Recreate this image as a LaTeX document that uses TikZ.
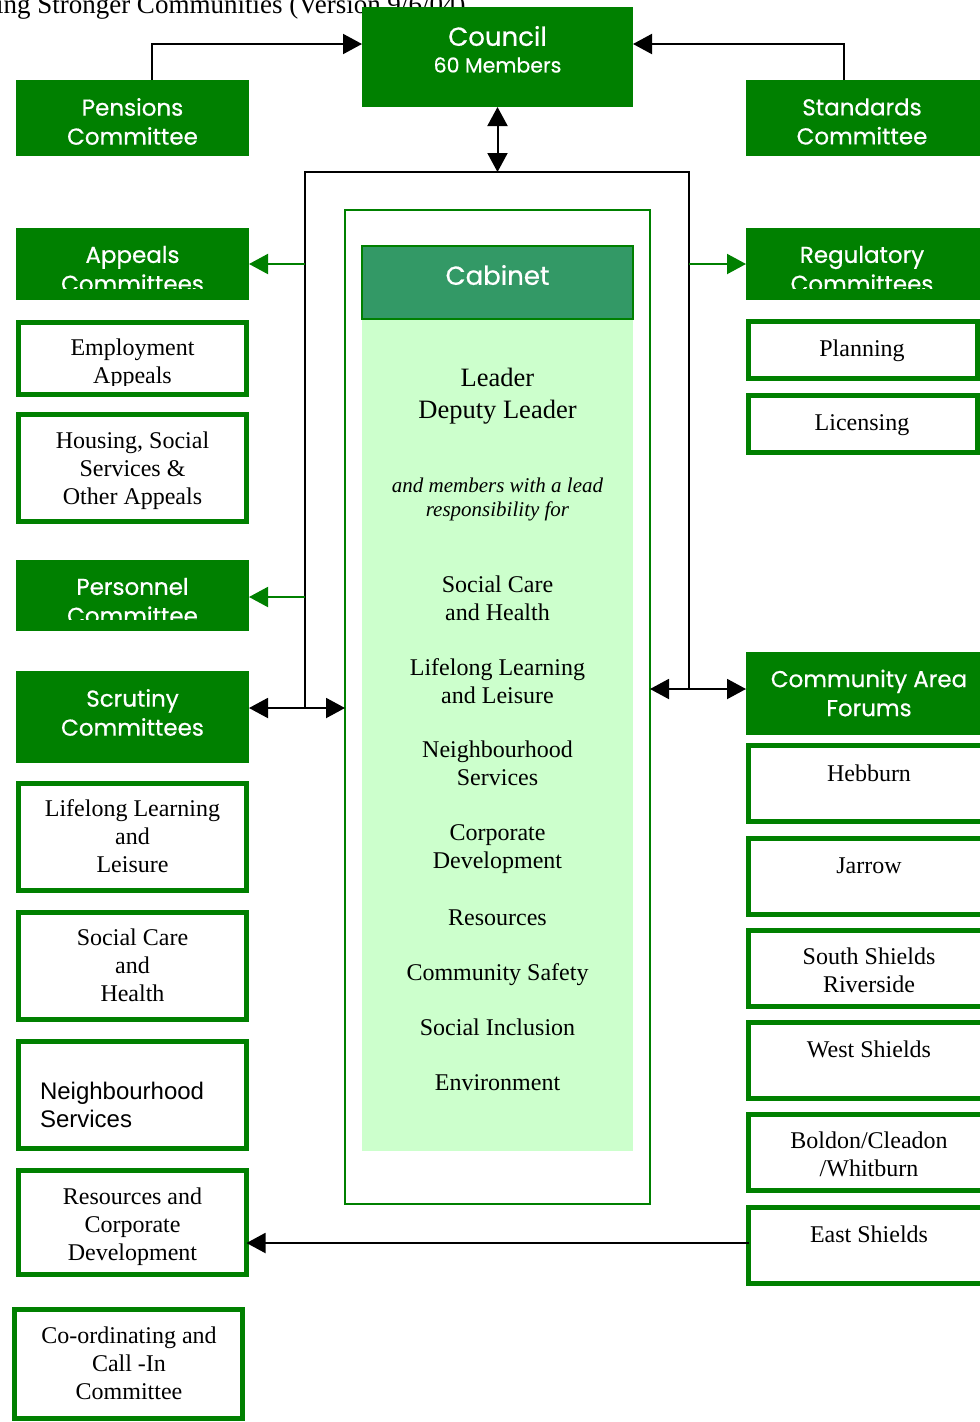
\documentclass[tikz,border=0pt]{standalone}
\usepackage{fontspec}
\setmainfont{Liberation Serif}
\newfontfamily\gothic[FakeBold=0.6]{Poppins}
\newfontfamily\arialf{Liberation Sans}
\usetikzlibrary{arrows.meta}
\definecolor{cgreen}{HTML}{008000}
\definecolor{cabhead}{HTML}{339966}
\definecolor{cabbody}{HTML}{CCFFCC}

% box from outer corners (x1,y1)-(x2,y2); outlined boxes keep their stroke inside
\newcommand\mkbox[6]{\node[#6, minimum width={(#4)-(#2)}, minimum height={(#5)-(#3)}] (#1) at ({((#2)+(#4))/2},{((#3)+(#5))/2}) {};}
\newcommand\mkobox[5]{\node[obox, minimum width={(#4)-(#2)-5}, minimum height={(#5)-(#3)-5}] (#1) at ({((#2)+(#4))/2},{((#3)+(#5))/2}) {};}

\begin{document}
\begin{tikzpicture}[x=1pt,y=-1pt,
  >={Triangle[length=19pt,width=20pt]},
  every node/.style={inner sep=0pt, outer sep=0pt},
  sbox/.style={rectangle, fill=cgreen},
  obox/.style={rectangle, draw=cgreen, line width=5pt, fill=white},
  struts/.style={execute at begin node=\strut, execute at end node=\strut, yshift=-4pt},
  wtext/.style={text=white, align=center, font=\gothic\fontsize{23}{29}\selectfont},
  stext/.style={text=black, align=center, struts, font=\fontsize{24}{28}\selectfont},
  blk/.style={draw=black, line width=2pt},
  grn/.style={draw=cgreen, line width=2pt, ->, color=cgreen},
]
\useasboundingbox (0,0) rectangle (980,1422);

% heading of the sheet
\node[anchor=base west, font=\fontsize{27}{30}\selectfont] (title) at (-4,13.5) {ing Stronger Communities (Version 9/6/04)};

% ---- top row ----
\mkbox{council}{362}{7}{633}{107}{sbox}
\node[text=white, font=\gothic\fontsize{26}{30}\selectfont] (council-t) at (497.5,36) {Council};
\node[text=white, font=\gothic\fontsize{20.5}{24}\selectfont] (council-m) at (497.5,65) {60 Members};
\mkbox{pens}{16}{80}{249}{156}{sbox}
\node[wtext] (pens-t) at (132.5,121.5) {Pensions\\Committee};
\mkbox{stand}{746}{80}{980}{156}{sbox}
\node[wtext] (stand-t) at (862,121.5) {Standards\\Committee};

% ---- cabinet ----
\node[draw=cgreen, line width=2pt, minimum width=305, minimum height=994] (cabframe) at (497.5,707) {};
\mkbox{cabbodybox}{362}{319}{633}{1151}{fill=cabbody}
\mkbox{cabhdr}{362}{246}{633}{319}{fill=cabhead, draw=cgreen, line width=1.5pt}
\node[text=white, font=\gothic\fontsize{26}{30}\selectfont] (cab-t) at (497.5,275) {Cabinet};
\node[align=center, struts, yshift=-1pt, font=\fontsize{26.5}{32}\selectfont] (lead-t) at (497.5,393) {Leader\\Deputy Leader};
\node[align=center, struts, font=\itshape\fontsize{21}{24}\selectfont] (lead-i) at (497.5,497) {and members with a lead\\responsibility for};
\node[stext] (c1) at (497.5,598) {Social Care\\and Health};
\node[stext] (c2) at (497.5,681) {Lifelong Learning\\and Leisure};
\node[stext] (c3) at (497.5,763.5) {Neighbourhood\\Services};
\node[stext] (c4) at (497.5,846.5) {Corporate\\Development};
\node[stext] (c5) at (497.5,916) {Resources};
\node[stext] (c6) at (497.5,971) {Community Safety};
\node[stext] (c7) at (497.5,1026) {Social Inclusion};
\node[stext] (c8) at (497.5,1081) {Environment};

% ---- left column ----
\mkbox{appeals}{16}{228}{249}{300}{sbox}
\begin{scope}\clip (16,228) rectangle (249,288);
\node[wtext] (appeals-t) at (132.5,269) {Appeals\\Committees};
\end{scope}
\mkobox{emp}{16}{320}{249}{397}
\begin{scope}\clip (16,320) rectangle (249,385);
\node[stext] (emp-t) at (132.5,361) {Employment\\Appeals};
\end{scope}
\mkobox{hous}{16}{412}{249}{524}
\node[stext] (hous-t) at (132.5,468) {Housing, Social\\Services \&\\Other Appeals};
\mkbox{pers}{16}{560}{249}{631}{sbox}
\begin{scope}\clip (16,560) rectangle (249,619);
\node[wtext] (pers-t) at (132.5,601) {Personnel\\Committee};
\end{scope}
\mkbox{scrut}{16}{671}{249}{763}{sbox}
\node[wtext] (scrut-t) at (132.5,712.5) {Scrutiny\\Committees};
\mkobox{lll}{16}{781}{249}{893}
\node[stext] (lll-t) at (132.5,836) {Lifelong Learning\\and\\Leisure};
\mkobox{sch}{16}{910}{249}{1022}
\node[stext] (sch-t) at (132.5,965) {Social Care\\and\\Health};
\mkobox{nbs}{16}{1039}{249}{1151}
\node[align=left, anchor=west, struts, font=\arialf\fontsize{24}{28}\selectfont] (nbs-t) at (40,1105) {Neighbourhood\\Services};
\mkobox{res}{16}{1168}{249}{1277}
\node[stext] (res-t) at (132.5,1224) {Resources and\\Corporate\\Development};
\mkobox{coord}{12}{1307}{245}{1421}
\node[stext] (coord-t) at (129,1363) {Co-ordinating and\\Call -In\\Committee};

% ---- right column ----
\mkbox{reg}{746}{228}{980}{300}{sbox}
\begin{scope}\clip (746,228) rectangle (980,288);
\node[wtext] (reg-t) at (862,269) {Regulatory\\Committees};
\end{scope}
\mkobox{plan}{746}{319}{980}{381}
\node[stext] (plan-t) at (862,347) {Planning};
\mkobox{lic}{746}{393}{980}{455}
\node[stext] (lic-t) at (862,421) {Licensing};
\mkbox{caf}{746}{652}{980}{735}{sbox}
\node[wtext] (caf-t) at (869,693) {Community Area\\Forums};
\mkobox{heb}{746}{743}{995}{824}
\node[stext] (heb-t) at (869,772) {Hebburn};
\mkobox{jar}{746}{836}{995}{917}
\node[stext] (jar-t) at (869,864) {Jarrow};
\mkobox{ssr}{746}{928}{995}{1009}
\node[stext] (ssr-t) at (869,970) {South Shields\\Riverside};
\mkobox{wsh}{746}{1020}{995}{1101}
\node[stext] (wsh-t) at (869,1048) {West Shields};
\mkobox{bol}{746}{1112}{995}{1193}
\node[stext] (bol-t) at (869,1154) {Boldon/Cleadon\\/Whitburn};
\mkobox{esh}{746}{1205}{995}{1286}
\node[stext] (esh-t) at (869,1233) {East Shields};

% ---- connectors ----
\coordinate (ftop) at (497.5,172);
\coordinate (fsl) at (305,708);
\coordinate (fsr) at (689,689);
\draw[blk] (fsl) |- (ftop) -| (fsr);
\draw[blk, ->] ([xshift=19.5pt]pens.north) |- ([yshift=13pt]council.west);
\draw[blk, ->] ([xshift=-19pt]stand.north) |- ([yshift=13pt]council.east);
\draw[blk, <->] (council.south) -- (ftop);
\draw[grn] (appeals.east -| fsl) -- (appeals.east);
\draw[grn] ([yshift=-1.5pt]pers.east -| fsl) -- ([yshift=-1.5pt]pers.east);
\draw[grn] (reg.west -| fsr) -- (reg.west);
\draw[blk, <->] (scrut.east |- fsl) -- (cabframe.west |- fsl);
\draw[blk, <->] (cabframe.east |- fsr) -- (caf.west |- fsr);
\draw[blk, ->] ([yshift=2.5pt]esh.west) -- ([yshift=2.5pt]esh.west -| res.east);
\end{tikzpicture}
\end{document}
